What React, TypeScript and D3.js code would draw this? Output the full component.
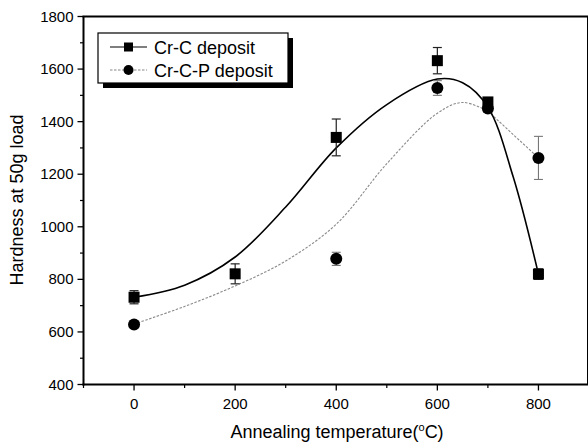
import React from "react";
import * as d3 from "d3";

// Measured hardness (HV, 50 g load) vs annealing temperature (°C)
const crcTemps = [0, 200, 400, 600, 700, 800];
const crcHardness = [732, 821, 1340, 1632, 1475, 820];
const crcError = [25, 38, 70, 50, 15, 20];

const crcpTemps = [0, 400, 600, 700, 800];
const crcpHardness = [628, 878, 1528, 1450, 1262];
const crcpError = [10, 25, 28, 15, 82];

// Fitted trend curves
const crcFitTemps = [0, 100, 200, 300, 400, 500, 600, 650, 700, 750, 800];
const crcFitHardness = [732, 778, 885, 1075, 1300, 1465, 1562, 1548, 1455, 1190, 820];

const crcpFitTemps = [0, 100, 200, 300, 400, 500, 600, 650, 700, 800];
const crcpFitHardness = [630, 697, 775, 870, 1010, 1240, 1432, 1473, 1440, 1262];

const xTicks = [0, 200, 400, 600, 800];
const xMinorTicks = [-100, 100, 300, 500, 700];
const yTicks = [400, 600, 800, 1000, 1200, 1400, 1600, 1800];
const yMinorTicks = [500, 700, 900, 1100, 1300, 1500, 1700];

const seriesNames = ["Cr-C deposit", "Cr-C-P deposit"];

const W = 588;
const H = 448;
const FONT = "Arial, 'Liberation Sans', Helvetica, sans-serif";

export default function App() {
  const x = d3.scaleLinear().domain([-100, 900]).range([83.5, 589]);
  const y = d3.scaleLinear().domain([400, 1800]).range([384.5, 16.5]);

  const smooth = d3
    .line<[number, number]>()
    .x((d) => x(d[0]))
    .y((d) => y(d[1]))
    .curve(d3.curveCatmullRom.alpha(0.5));

  const crcFit = smooth(crcFitTemps.map((t, i) => [t, crcFitHardness[i]]) as [number, number][]) || "";
  // the P-series trend is smooth up to 700 °C and straight from there to 800 °C
  const nSmooth = crcpFitTemps.length - 1;
  const crcpFitA =
    smooth(crcpFitTemps.slice(0, nSmooth).map((t, i) => [t, crcpFitHardness[i]]) as [number, number][]) || "";
  const crcpFitB =
    d3
      .line<[number, number]>()
      .x((d) => x(d[0]))
      .y((d) => y(d[1]))(
      crcpFitTemps.slice(nSmooth - 1).map((t, i) => [t, crcpFitHardness[nSmooth - 1 + i]]) as [number, number][]
    ) || "";

  const x0 = x(-100);
  const x1 = x(900);
  const yb = y(400);
  const yt = y(1800);

  const sq = 11;
  const cr = 6;
  const cap = 4.5;

  return (
    <svg
      width={W}
      height={H}
      style={{ position: "absolute", left: 0, top: 0, background: "#fff" }}
      fontFamily={FONT}
    >
      <rect x={0} y={0} width={W} height={H} fill="#fff" />

      {/* fitted curves */}
      <path d={crcpFitA} fill="none" stroke="#8a8a8a" strokeWidth={1.1} strokeDasharray="2.5,1.5" />
      <path d={crcpFitB} fill="none" stroke="#8a8a8a" strokeWidth={1.1} strokeDasharray="2.5,1.5" />
      <path d={crcFit} fill="none" stroke="#000" strokeWidth={1.6} />

      {/* Cr-C-P error bars and points */}
      {crcpTemps.map((t, i) => {
        const cx = x(t);
        const top = y(crcpHardness[i] + crcpError[i]);
        const bot = y(crcpHardness[i] - crcpError[i]);
        return (
          <g key={"pe" + i} stroke="#777" strokeWidth={1.1}>
            <line x1={cx} x2={cx} y1={top} y2={bot} />
            <line x1={cx - cap} x2={cx + cap} y1={top} y2={top} />
            <line x1={cx - cap} x2={cx + cap} y1={bot} y2={bot} />
          </g>
        );
      })}
      {crcpTemps.map((t, i) => (
        <circle key={"p" + i} cx={x(t)} cy={y(crcpHardness[i])} r={cr} fill="#000" />
      ))}

      {/* Cr-C error bars and points */}
      {crcTemps.map((t, i) => {
        const cx = x(t);
        const top = y(crcHardness[i] + crcError[i]);
        const bot = y(crcHardness[i] - crcError[i]);
        return (
          <g key={"ce" + i} stroke="#222" strokeWidth={1.2}>
            <line x1={cx} x2={cx} y1={top} y2={bot} />
            <line x1={cx - cap} x2={cx + cap} y1={top} y2={top} />
            <line x1={cx - cap} x2={cx + cap} y1={bot} y2={bot} />
          </g>
        );
      })}
      {crcTemps.map((t, i) => (
        <rect
          key={"c" + i}
          x={x(t) - sq / 2}
          y={y(crcHardness[i]) - sq / 2}
          width={sq}
          height={sq}
          fill="#000"
        />
      ))}

      {/* frame */}
      <line x1={x0} x2={x0} y1={yt} y2={yb + 1} stroke="#000" strokeWidth={2} />
      <line x1={x0 - 1} x2={x1} y1={yb} y2={yb} stroke="#000" strokeWidth={2} />
      <line x1={x0 - 1} x2={x1} y1={yt} y2={yt} stroke="#000" strokeWidth={2} />
      <line x1={x1 - 1} x2={x1 - 1} y1={yt} y2={yb} stroke="#000" strokeWidth={2} />

      {/* y ticks */}
      {yTicks.map((v) => (
        <g key={"yt" + v}>
          <line x1={x0 - 6} x2={x0} y1={y(v)} y2={y(v)} stroke="#000" strokeWidth={1.3} />
          <text x={x0 - 10} y={y(v) + 5} textAnchor="end" fontSize={15} fill="#000">
            {v}
          </text>
        </g>
      ))}
      {yMinorTicks.map((v) => (
        <line key={"ym" + v} x1={x0 - 3.5} x2={x0} y1={y(v)} y2={y(v)} stroke="#000" strokeWidth={1.2} />
      ))}

      {/* x ticks */}
      {xTicks.map((v) => (
        <g key={"xt" + v}>
          <line x1={x(v)} x2={x(v)} y1={yb} y2={yb + 6} stroke="#000" strokeWidth={1.3} />
          <text x={x(v)} y={409} textAnchor="middle" fontSize={15} fill="#000">
            {v}
          </text>
        </g>
      ))}
      {xMinorTicks.map((v) => (
        <line key={"xm" + v} x1={x(v)} x2={x(v)} y1={yb} y2={yb + 3.5} stroke="#000" strokeWidth={1.2} />
      ))}

      {/* axis titles */}
      <text x={337} y={438} textAnchor="middle" fontSize={18} fill="#000">
        Annealing temperature(
        <tspan fontSize={11} dy={-7}>o</tspan>
        <tspan dy={7}>C)</tspan>
      </text>
      <text
        transform={`translate(23,200) rotate(-90)`}
        textAnchor="middle"
        fontSize={18}
        fill="#000"
      >
        Hardness at 50g load
      </text>

      {/* legend */}
      <rect x={103} y={38} width={190} height={50} fill="#000" />
      <rect x={98} y={33} width={190} height={50} fill="#fff" stroke="#000" strokeWidth={1.2} />
      <g>
        <line x1={110} x2={147} y1={47} y2={47} stroke="#000" strokeWidth={1.2} />
        <rect x={128.5 - 4.5} y={47 - 4.5} width={9} height={9} fill="#000" />
        <text x={154} y={53.5} fontSize={18} fill="#000">
          {seriesNames[0]}
        </text>
      </g>
      <g>
        <line x1={110} x2={147} y1={70} y2={70} stroke="#888" strokeWidth={1.1} strokeDasharray="2.5,1.5" />
        <circle cx={128.5} cy={70} r={5} fill="#000" />
        <text x={154} y={76.5} fontSize={18} fill="#000">
          {seriesNames[1]}
        </text>
      </g>
    </svg>
  );
}
